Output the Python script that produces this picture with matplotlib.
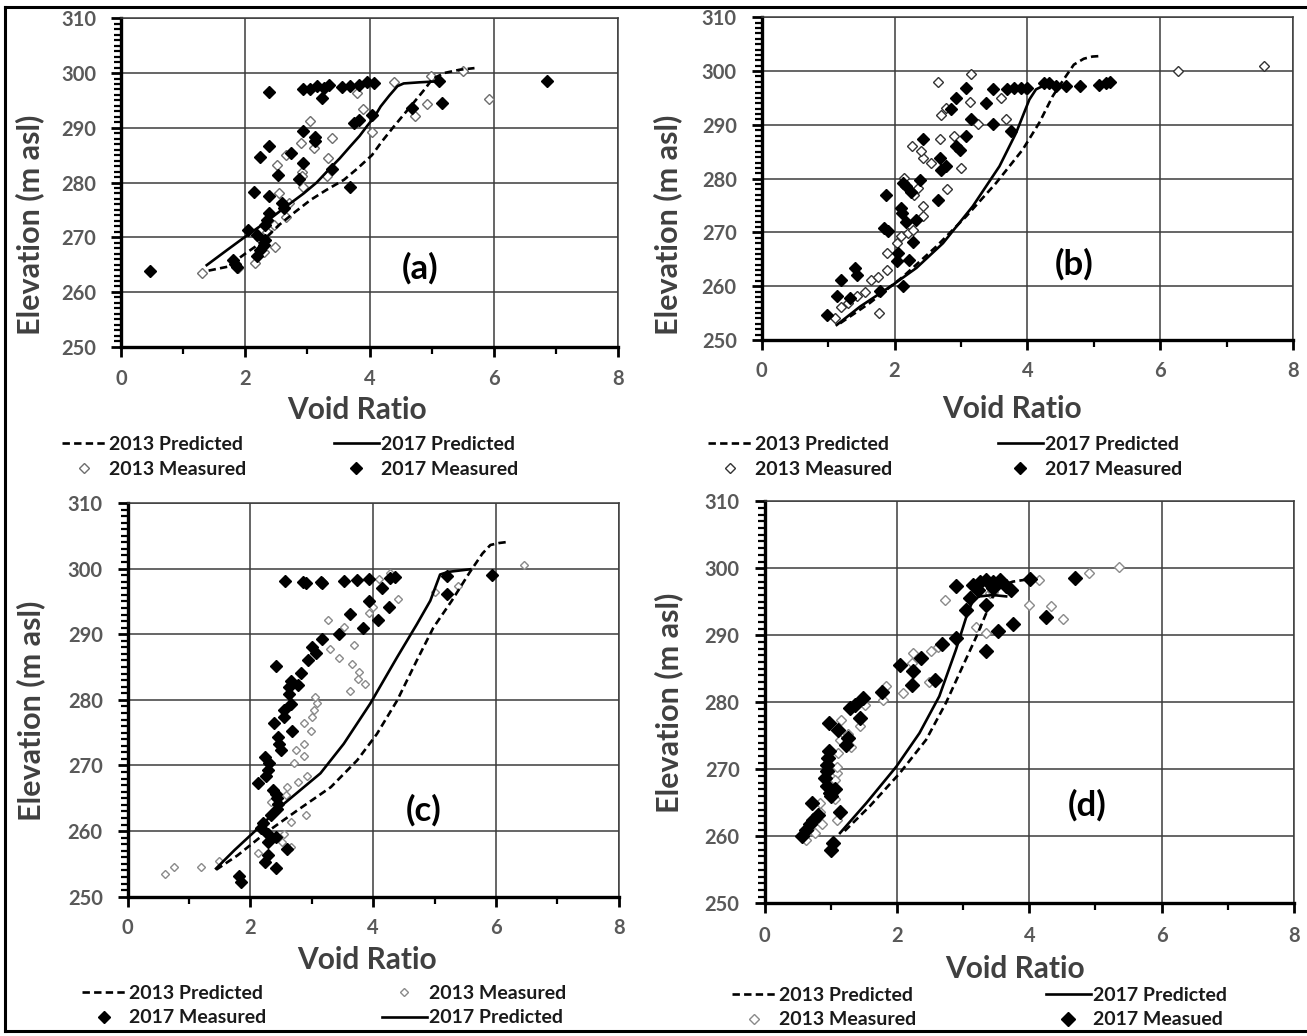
import matplotlib
matplotlib.use('Agg')
import matplotlib.pyplot as plt
from matplotlib.ticker import MultipleLocator
from matplotlib.lines import Line2D

plt.rcParams['font.family'] = ['Lato', 'DejaVu Sans']
plt.rcParams['font.weight'] = 'bold'

# ---- panel (a) ----
a_pred13_x = [1.41, 1.71, 2.00, 2.19, 2.35, 2.54, 2.80, 3.05, 3.30, 3.59, 3.80, 4.04, 4.20, 4.39, 4.58, 4.77, 4.90, 5.01, 5.20, 5.45, 5.69]
a_pred13_y = [263.9, 264.6, 267.0, 268.5, 270.1, 272.2, 274.6, 276.8, 278.6, 280.5, 282.5, 285.0, 287.5, 290.2, 292.8, 295.4, 297.2, 298.9, 300.0, 300.6, 300.9]
a_pred17_x = [1.38, 1.70, 2.00, 2.30, 2.62, 2.94, 3.15, 3.34, 3.52, 3.69, 3.84, 3.96, 4.08, 4.18, 4.32, 4.45, 4.55, 4.80, 5.12]
a_pred17_y = [264.9, 267.6, 270.1, 272.5, 275.3, 278.0, 280.0, 282.3, 284.4, 286.6, 288.5, 290.3, 292.0, 293.9, 295.9, 297.6, 298.1, 298.3, 298.5]
a_meas13_x = [1.30, 1.89, 2.15, 2.30, 2.48, 2.46, 2.65, 2.54, 2.70, 2.51, 2.65, 2.91, 2.93, 2.91, 2.90, 3.10, 3.05, 3.34, 3.40, 3.32,
              3.80, 3.90, 4.04, 4.40, 4.99, 4.73, 4.92, 5.50, 5.92, 2.22, 2.35]
a_meas13_y = [263.5, 264.3, 265.3, 267.3, 268.2, 272.2, 273.7, 278.0, 276.2, 283.2, 285.0, 282.0, 279.2, 281.1, 287.3, 286.3, 291.3, 284.4, 288.2, 281.1,
              296.3, 293.4, 289.3, 298.3, 299.4, 292.2, 294.3, 300.3, 295.2, 269.8, 271.0]
a_meas17_x = [0.46, 1.80, 1.84, 1.86, 2.05, 2.19, 2.24, 2.30, 2.32, 2.19, 2.32, 2.35, 2.39, 2.14, 2.39, 2.59, 2.62, 2.52, 2.23, 2.38,
              2.73, 2.86, 2.93, 2.93, 3.13, 3.13, 3.40, 3.69, 3.75, 3.83, 4.04, 2.38, 2.93, 3.05, 3.16, 3.26, 3.35, 3.24, 3.56, 3.69,
              3.83, 3.96, 4.07, 4.68, 5.12, 5.16, 6.86]
a_meas17_y = [263.8, 265.8, 265.1, 264.6, 271.4, 266.5, 267.6, 268.6, 269.5, 270.4, 272.2, 273.1, 274.4, 278.3, 277.5, 276.2, 275.3, 281.4, 284.6, 286.6,
              285.3, 280.6, 283.5, 289.5, 288.4, 287.5, 282.4, 279.2, 290.8, 291.4, 292.4, 296.6, 297.1, 297.1, 297.6, 297.3, 297.8, 295.4, 297.5, 297.7,
              297.9, 298.3, 298.2, 293.6, 298.5, 294.5, 298.5]

# ---- panel (b) ----
b_pred13_x = [1.18, 1.63, 2.13, 2.63, 3.08, 3.53, 3.93, 4.18, 4.38, 4.55, 4.70, 4.85, 4.98, 5.10]
b_pred13_y = [253.1, 256.9, 261.8, 267.4, 273.0, 279.2, 285.4, 290.4, 295.3, 298.5, 301.2, 302.3, 302.7, 302.8]
b_pred17_x = [1.13, 1.48, 1.98, 2.33, 2.73, 3.18, 3.58, 3.83, 4.03, 4.13, 4.23, 4.50]
b_pred17_y = [252.8, 256.2, 260.3, 263.4, 268.0, 274.9, 282.3, 288.5, 294.7, 296.6, 297.2, 297.3]
b_meas13_x = [1.10, 1.20, 1.30, 1.43, 1.55, 1.65, 1.75, 1.88, 1.88, 1.77, 2.03, 2.10, 2.20, 2.28, 2.43, 2.43, 2.30, 2.35, 2.15, 2.27,
              2.43, 2.55, 2.68, 2.79, 3.00, 2.90, 2.70, 2.65, 3.15, 3.13, 3.25, 3.61, 3.68, 3.98, 6.27, 7.56, 2.78, 2.40]
b_meas13_y = [254.1, 256.2, 256.9, 258.1, 259.0, 261.2, 261.8, 263.1, 266.2, 255.1, 268.0, 269.3, 269.9, 270.5, 273.0, 274.9, 277.0, 278.3, 280.1, 286.0,
              283.9, 282.9, 287.3, 278.0, 282.0, 287.9, 291.9, 298.0, 299.4, 294.2, 290.1, 295.0, 291.0, 296.7, 300.1, 301.0, 293.2, 285.1]
b_meas17_x = [0.98, 1.13, 1.20, 1.33, 1.40, 1.43, 1.78, 1.87, 1.84, 1.90, 2.03, 2.05, 2.10, 2.12, 2.13, 2.18, 2.22, 2.28, 2.13, 2.18,
              2.25, 2.39, 2.33, 2.43, 2.65, 2.68, 2.70, 2.78, 2.93, 2.98, 3.08, 2.85, 2.93, 3.08, 3.15, 3.37, 3.48, 3.48, 3.75, 3.70,
              3.80, 3.90, 4.00, 4.25, 4.33, 4.43, 4.58, 4.80, 5.08, 5.18, 5.25]
b_meas17_y = [254.7, 258.1, 261.2, 257.8, 263.4, 262.1, 259.2, 277.0, 270.8, 270.2, 264.6, 266.2, 274.5, 273.6, 260.0, 271.9, 264.9, 268.3, 279.2, 278.6,
              277.6, 279.8, 272.4, 287.3, 276.1, 283.9, 281.7, 282.3, 286.0, 285.4, 287.9, 292.9, 295.0, 296.9, 291.0, 294.1, 296.6, 290.1, 288.8, 296.6,
              296.9, 296.9, 296.9, 297.8, 297.8, 297.2, 297.2, 297.3, 297.5, 297.8, 298.0]

# ---- panel (c) ----
c_pred13_x = [1.44, 1.79, 2.23, 2.77, 3.31, 3.74, 4.06, 4.39, 4.71, 4.98, 5.28, 5.57, 5.78, 5.91, 6.05, 6.22]
c_pred13_y = [254.1, 256.3, 259.6, 263.2, 266.7, 270.8, 274.8, 279.9, 286.0, 291.0, 295.1, 299.4, 302.3, 303.6, 303.9, 304.1]
c_pred17_x = [1.44, 1.74, 2.12, 2.55, 3.14, 3.52, 3.95, 4.39, 4.71, 4.93, 5.09, 5.22, 5.58]
c_pred17_y = [254.3, 257.1, 260.4, 264.2, 268.8, 273.3, 279.4, 286.5, 291.5, 295.1, 299.1, 299.5, 299.9]
c_meas13_x = [0.60, 0.76, 1.20, 1.48, 2.12, 2.33, 2.59, 2.58, 2.55, 2.52, 2.66, 2.66, 2.90, 2.77, 2.92, 2.71, 2.87, 2.74, 2.87, 2.98,
              2.87, 3.01, 3.04, 3.08, 3.05, 3.26, 3.29, 3.44, 3.52, 3.68, 3.66, 3.77, 3.76, 3.86, 3.62, 3.93, 4.00, 4.09, 4.28, 4.41,
              5.01, 5.38, 6.46]
c_meas13_y = [253.5, 254.5, 254.5, 255.4, 256.6, 264.5, 266.7, 265.5, 259.6, 258.4, 257.6, 261.4, 262.4, 267.5, 268.4, 270.3, 271.4, 272.4, 273.3, 275.3,
              276.4, 277.4, 278.4, 279.5, 280.4, 292.2, 287.8, 286.4, 291.1, 288.3, 285.4, 284.2, 283.2, 282.4, 281.3, 293.3, 294.2, 298.4, 299.4, 295.4,
              296.4, 297.3, 300.5]
c_meas17_x = [2.56, 2.85, 2.90, 3.15, 3.17, 3.52, 3.74, 3.93, 4.28, 4.36, 4.14, 4.25, 3.93, 4.08, 3.84, 3.62, 3.44, 3.17, 3.01, 3.06,
              2.93, 2.82, 2.41, 2.66, 2.63, 2.77, 2.63, 2.66, 2.55, 2.55, 2.39, 2.45, 2.47, 2.50, 2.68, 2.23, 2.31, 2.28, 2.25, 2.12,
              2.36, 2.41, 2.44, 2.45, 2.43, 2.33, 2.21, 2.17, 2.28, 2.41, 2.28, 2.60, 2.28, 2.23, 2.41, 1.82, 1.85, 5.20, 5.20, 5.93]
c_meas17_y = [298.1, 297.9, 297.8, 298.0, 297.8, 298.1, 298.2, 298.4, 298.6, 298.7, 297.1, 294.1, 295.1, 292.1, 291.0, 293.1, 290.0, 289.3, 288.0, 287.2,
              286.1, 284.1, 285.2, 282.9, 281.9, 282.2, 280.9, 279.4, 278.4, 277.4, 276.4, 274.3, 273.3, 272.4, 275.3, 271.3, 270.3, 269.3, 268.4, 267.3,
              266.3, 265.6, 265.0, 264.2, 263.4, 262.4, 261.3, 260.4, 259.6, 259.1, 258.4, 257.2, 256.3, 255.3, 254.3, 253.2, 252.3, 296.2, 298.9, 299.0]

# ---- panel (d) ----
d_pred13_x = [1.21, 1.59, 2.04, 2.44, 2.74, 2.99, 3.20, 3.35, 3.45, 3.55, 3.75, 3.95]
d_pred13_y = [260.8, 264.5, 269.4, 274.4, 279.9, 285.3, 289.8, 293.3, 295.8, 297.3, 298.0, 298.3]
d_pred17_x = [1.14, 1.54, 1.99, 2.34, 2.64, 2.89, 3.05, 3.15, 3.25, 3.45, 3.65]
d_pred17_y = [260.5, 265.0, 270.4, 275.4, 280.9, 287.8, 292.8, 295.3, 295.8, 296.0, 295.8]
d_meas13_x = [0.63, 0.76, 0.86, 0.84, 0.84, 1.06, 1.09, 1.09, 1.06, 1.09, 1.11, 1.14, 1.26, 1.31, 1.44, 1.16, 1.51, 1.79, 1.84, 2.09,
              2.22, 2.25, 2.49, 2.52, 2.62, 2.72, 3.20, 3.34, 3.40, 3.45, 3.99, 4.14, 4.33, 4.51, 4.90, 5.35]
d_meas13_y = [259.5, 260.5, 261.8, 263.7, 265.0, 265.5, 262.5, 269.4, 268.4, 270.4, 272.4, 274.4, 275.2, 273.4, 276.4, 277.4, 279.6, 280.4, 282.4, 281.4,
              285.8, 287.3, 283.1, 287.6, 288.3, 295.3, 291.3, 290.3, 296.3, 296.4, 294.5, 298.3, 294.3, 292.4, 299.3, 300.2]
d_meas17_x = [0.56, 0.63, 0.68, 0.73, 0.71, 0.81, 1.01, 1.04, 0.99, 0.94, 0.91, 0.94, 0.94, 0.96, 0.98, 1.06, 1.01, 1.14, 0.98, 1.11,
              1.23, 1.26, 1.29, 1.36, 1.44, 1.49, 1.77, 2.04, 2.22, 2.25, 2.37, 2.57, 2.68, 2.89, 3.05, 3.11, 2.89, 3.15, 3.25, 3.35,
              3.45, 3.55, 3.65, 3.72, 3.35, 3.35, 3.52, 3.75, 4.01, 4.25, 4.69, 3.22, 3.45]
d_meas17_y = [260.0, 261.0, 261.8, 262.5, 265.0, 263.2, 258.0, 259.0, 266.5, 267.5, 268.7, 269.7, 270.7, 271.7, 272.7, 267.0, 266.0, 263.7, 276.9, 275.9,
              273.7, 274.7, 279.1, 279.6, 277.6, 280.6, 281.6, 285.6, 282.6, 284.6, 286.6, 283.4, 288.7, 289.6, 293.8, 295.5, 297.3, 297.5, 298.0, 298.3,
              298.0, 298.3, 297.3, 296.8, 294.5, 287.6, 290.7, 291.7, 298.4, 292.7, 298.5, 296.8, 297.0]

x_ticks = [0, 2, 4, 6, 8]
y_ticks = [250, 260, 270, 280, 290, 300, 310]

W, H = 1307, 1036
fig = plt.figure(figsize=(W / 100, H / 100), dpi=100)
fig.patch.set_facecolor('white')


def fx(px):
    return px / W


def fy(py):
    return 1 - py / H


def panel(box, tag, tag_xy, p13, p17, m13, m17, labels, order, leg_xy, colgap,
          xlab_xy, ylab_xy, xpad, ms13, ms17, mec13):
    l, r, t, b = box
    ax = fig.add_axes([fx(l), fy(b), (r - l) / W, (b - t) / H])

    h = {}
    h['m13'], = ax.plot(m13[0], m13[1], ls='none', marker='D', ms=ms13, mfc='white',
                        mec=mec13, mew=1.0, zorder=3)
    h['m17'], = ax.plot(m17[0], m17[1], ls='none', marker='D', ms=ms17, color='black', zorder=3)
    h['p13'], = ax.plot(p13[0], p13[1], color='black', lw=1.9, ls=(0, (2.8, 1.6)), zorder=4)
    h['p17'], = ax.plot(p17[0], p17[1], color='black', lw=1.9, zorder=4)

    ax.set_xlim(0, 8)
    ax.set_ylim(250, 310)
    ax.set_xticks(x_ticks)
    ax.set_yticks(y_ticks)
    ax.xaxis.set_minor_locator(MultipleLocator(1))
    ax.yaxis.set_minor_locator(MultipleLocator(1))
    ax.grid(True, which='major', color='#3c3c3c', lw=1.1)
    ax.set_axisbelow(True)
    for s in ['left', 'bottom']:
        ax.spines[s].set_linewidth(2.4)
        ax.spines[s].set_color('black')
    for s in ['top', 'right']:
        ax.spines[s].set_linewidth(1.1)
        ax.spines[s].set_color('#3c3c3c')
    ax.tick_params(which='major', direction='out', length=7, width=2, color='black',
                   labelsize=14.5, labelcolor='#595959')
    ax.tick_params(which='minor', direction='out', length=5, width=1.6, color='black')
    ax.tick_params(axis='y', which='major', pad=11)
    ax.tick_params(axis='x', which='major', pad=xpad)

    ax.text(tag_xy[0], tag_xy[1], tag, fontsize=25, ha='center', va='center', color='black')

    fig.text(fx(xlab_xy[0]), fy(xlab_xy[1]), 'Void Ratio', fontsize=21.5, color='#404040',
             ha='center', va='center')
    fig.text(fx(ylab_xy[0]), fy(ylab_xy[1]), 'Elevation (m asl)', fontsize=22, color='#404040',
             ha='center', va='center', rotation=90)

    ax.legend([h[k] for k in order], [labels[k] for k in order], ncol=2, frameon=False,
              loc='center left', bbox_to_anchor=(fx(leg_xy[0]), fy(leg_xy[1])),
              bbox_transform=fig.transFigure, borderpad=0, borderaxespad=0,
              fontsize=14, handlelength=2.3, handletextpad=0.1,
              columnspacing=colgap * 0.72 / 14, labelspacing=0.4, labelcolor='#1a1a1a')
    return ax


lab = {'p13': '2013 Predicted', 'p17': '2017 Predicted', 'm13': '2013 Measured', 'm17': '2017 Measured'}
lab_d = dict(lab)
lab_d['m17'] = '2017 Measued'

panel((121, 618, 18.3, 346.7), '(a)', (4.82, 264.3),
      (a_pred13_x, a_pred13_y), (a_pred17_x, a_pred17_y),
      (a_meas13_x, a_meas13_y), (a_meas17_x, a_meas17_y),
      lab, ['p13', 'm13', 'p17', 'm17'], (62, 457), 88,
      (357, 410), (30, 225), 9, 5.0, 6.6, '#6e6e6e')

panel((761.7, 1293, 17.3, 340), '(b)', (4.70, 264.0),
      (b_pred13_x, b_pred13_y), (b_pred17_x, b_pred17_y),
      (b_meas13_x, b_meas13_y), (b_meas17_x, b_meas17_y),
      lab, ['p13', 'm13', 'p17', 'm17'], (708, 457), 106,
      (1012, 409), (668, 225), 8, 5.3, 6.2, '#333333')

panel((127.7, 618.7, 503, 896.7), '(c)', (4.82, 263.2),
      (c_pred13_x, c_pred13_y), (c_pred17_x, c_pred17_y),
      (c_meas13_x, c_meas13_y), (c_meas17_x, c_meas17_y),
      lab, ['p13', 'm17', 'm13', 'p17'], (82, 1005.5), 116,
      (367, 960), (31, 711), 8, 4.4, 6.2, '#8a8a8a')

panel((764.6, 1294, 501.2, 903.4), '(d)', (4.87, 264.7),
      (d_pred13_x, d_pred13_y), (d_pred17_x, d_pred17_y),
      (d_meas13_x, d_meas13_y), (d_meas17_x, d_meas17_y),
      lab_d, ['p13', 'm13', 'p17', 'm17'], (732, 1007.5), 130,
      (1015, 969), (669, 703), 9, 4.8, 7.2, '#8a8a8a')

# outer frame (top, left, bottom edges)
for xs, ys in [((5, W), (7, 7)), ((5, 5), (7, 1031)), ((5, W), (1031, 1031))]:
    fig.add_artist(Line2D([fx(v) for v in xs], [fy(v) for v in ys], color='black', lw=2.2))

fig.savefig('out.png', dpi=100)
plt.close(fig)
